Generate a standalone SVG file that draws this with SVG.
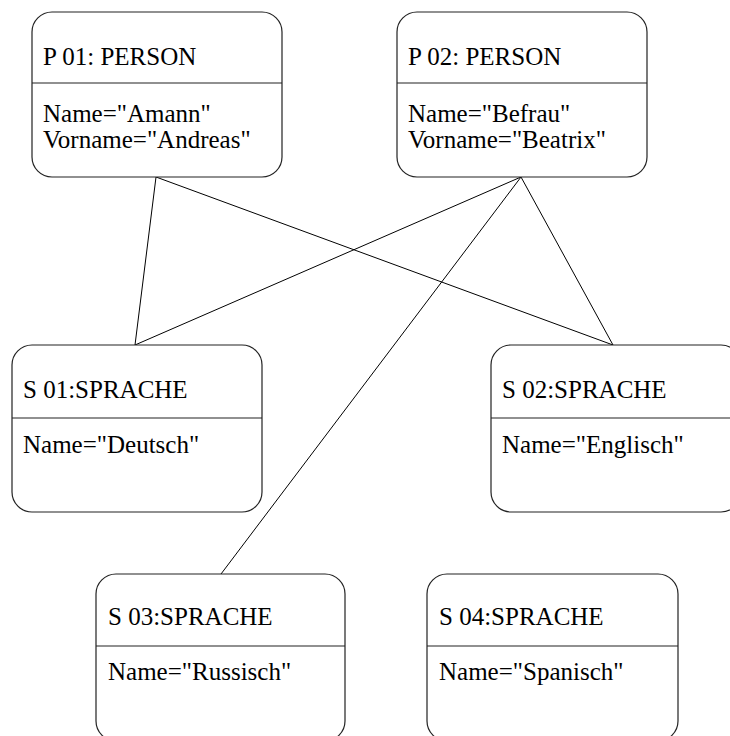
<svg xmlns="http://www.w3.org/2000/svg" width="730" height="736" viewBox="0 0 730 736">
<style>
.box{fill:#fff;stroke:#222;stroke-width:1.2}
.div{stroke:#222;stroke-width:1.2}
.t{font-family:'Liberation Serif','DejaVu Serif','Noto Serif',serif;font-size:25px;fill:#000}
.c{stroke:#000;stroke-width:1;fill:none}
</style>
<rect width="730" height="736" fill="#fff"/>
<g id="connectors">
<line class="c" x1="156" y1="177" x2="135" y2="345"/>
<line class="c" x1="156" y1="177" x2="613" y2="345"/>
<line class="c" x1="521" y1="177" x2="135" y2="345"/>
<line class="c" x1="521" y1="177" x2="613" y2="345"/>
<line class="c" x1="521" y1="177" x2="221" y2="574"/>
</g>
<g id="p01">
<rect class="box" x="32" y="12" width="250" height="165" rx="20"/>
<line class="div" x1="32" y1="83" x2="282" y2="83"/>
<text class="t" x="43" y="65">P 01: PERSON</text>
<text class="t" x="43" y="122">Name="Amann"</text>
<text class="t" x="43" y="148">Vorname="Andreas"</text>
</g>
<g id="p02">
<rect class="box" x="397" y="12" width="250" height="165" rx="20"/>
<line class="div" x1="397" y1="83" x2="647" y2="83"/>
<text class="t" x="408" y="65">P 02: PERSON</text>
<text class="t" x="408" y="122">Name="Befrau"</text>
<text class="t" x="408" y="148">Vorname="Beatrix"</text>
</g>
<g id="s01">
<rect class="box" x="12" y="345" width="250" height="167" rx="20"/>
<line class="div" x1="12" y1="418" x2="262" y2="418"/>
<text class="t" x="23" y="398">S 01:SPRACHE</text>
<text class="t" x="23" y="453">Name="Deutsch"</text>
</g>
<g id="s02">
<rect class="box" x="491" y="345" width="250" height="167" rx="20"/>
<line class="div" x1="491" y1="418" x2="741" y2="418"/>
<text class="t" x="502" y="398">S 02:SPRACHE</text>
<text class="t" x="502" y="453">Name="Englisch"</text>
</g>
<g id="s03">
<rect class="box" x="96" y="574" width="249" height="167" rx="20"/>
<line class="div" x1="96" y1="646" x2="345" y2="646"/>
<text class="t" x="108" y="625">S 03:SPRACHE</text>
<text class="t" x="108" y="680">Name="Russisch"</text>
</g>
<g id="s04">
<rect class="box" x="427" y="574" width="251" height="167" rx="20"/>
<line class="div" x1="427" y1="646" x2="678" y2="646"/>
<text class="t" x="439" y="625">S 04:SPRACHE</text>
<text class="t" x="439" y="680">Name="Spanisch"</text>
</g>
</svg>
